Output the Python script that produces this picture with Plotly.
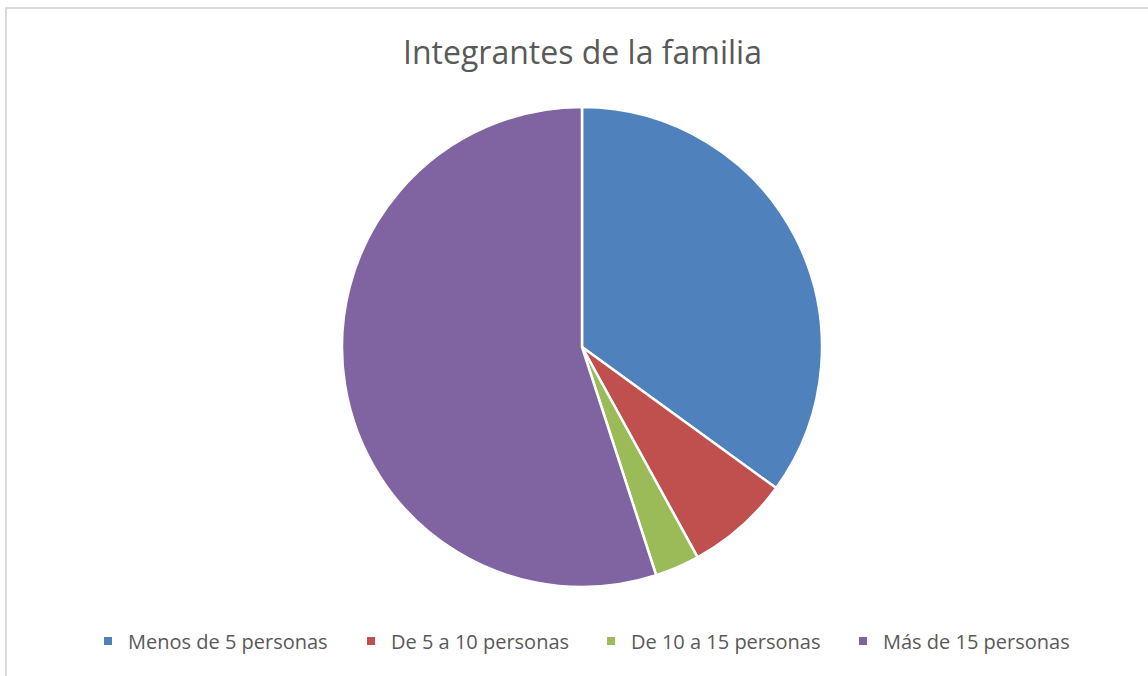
import plotly.graph_objects as go

categories = ["Menos de 5 personas", "De 5 a 10 personas", "De 10 a 15 personas", "Más de 15 personas"]
values = [35, 7, 3, 55]
colors = ["#4F81BD", "#C0504D", "#9BBB59", "#8064A2"]

W, H = 1148, 676
cx, cy, r = 582, 347, 240
legend_sym_x = [105, 368, 608, 860]  # legend marker centres (px)

fig = go.Figure()
fig.add_trace(go.Pie(
    labels=categories, values=values, sort=False, direction="clockwise", rotation=0,
    marker=dict(colors=colors, line=dict(color="white", width=2.5)),
    textinfo="none", hoverinfo="label+value+percent", showlegend=False,
    domain=dict(x=[(cx - r) / W, (cx + r) / W], y=[1 - (cy + r) / H, 1 - (cy - r) / H]),
))
legends = {}
for i, (c, col) in enumerate(zip(categories, colors)):
    lname = "legend" if i == 0 else f"legend{i + 1}"
    fig.add_trace(go.Scatter(x=[None], y=[None], mode="markers", name=c, legend=lname,
                             marker=dict(symbol="square", size=8, color=col), showlegend=True))
    legends[lname] = dict(orientation="h", x=(legend_sym_x[i] - 20 + 3) / W, xanchor="left",
                          y=1 - 641 / H, yanchor="middle", bgcolor="rgba(0,0,0,0)",
                          font=dict(size=20, color="#595959"), itemclick=False)

fig.update_layout(
    width=W, height=H, margin=dict(l=0, r=0, t=0, b=0),
    paper_bgcolor="white", plot_bgcolor="white",
    font=dict(family="Open Sans, sans-serif", color="#595959"),
    xaxis=dict(visible=False), yaxis=dict(visible=False),
    annotations=[dict(text="Integrantes de la familia", x=cx / W, y=1 - 52 / H, xref="paper", yref="paper",
                      showarrow=False, font=dict(size=32, color="#595959"), xanchor="center", yanchor="middle")],
    shapes=[dict(type="rect", xref="paper", yref="paper", x0=6 / W, x1=1.05, y0=-0.05, y1=1 - 8 / H,
                 line=dict(color="#D9D9D9", width=2), fillcolor="rgba(0,0,0,0)", layer="below")],
    **legends,
)
fig.write_html("out.html", config={"displayModeBar": False},
               post_script="document.body.style.margin='0';")
